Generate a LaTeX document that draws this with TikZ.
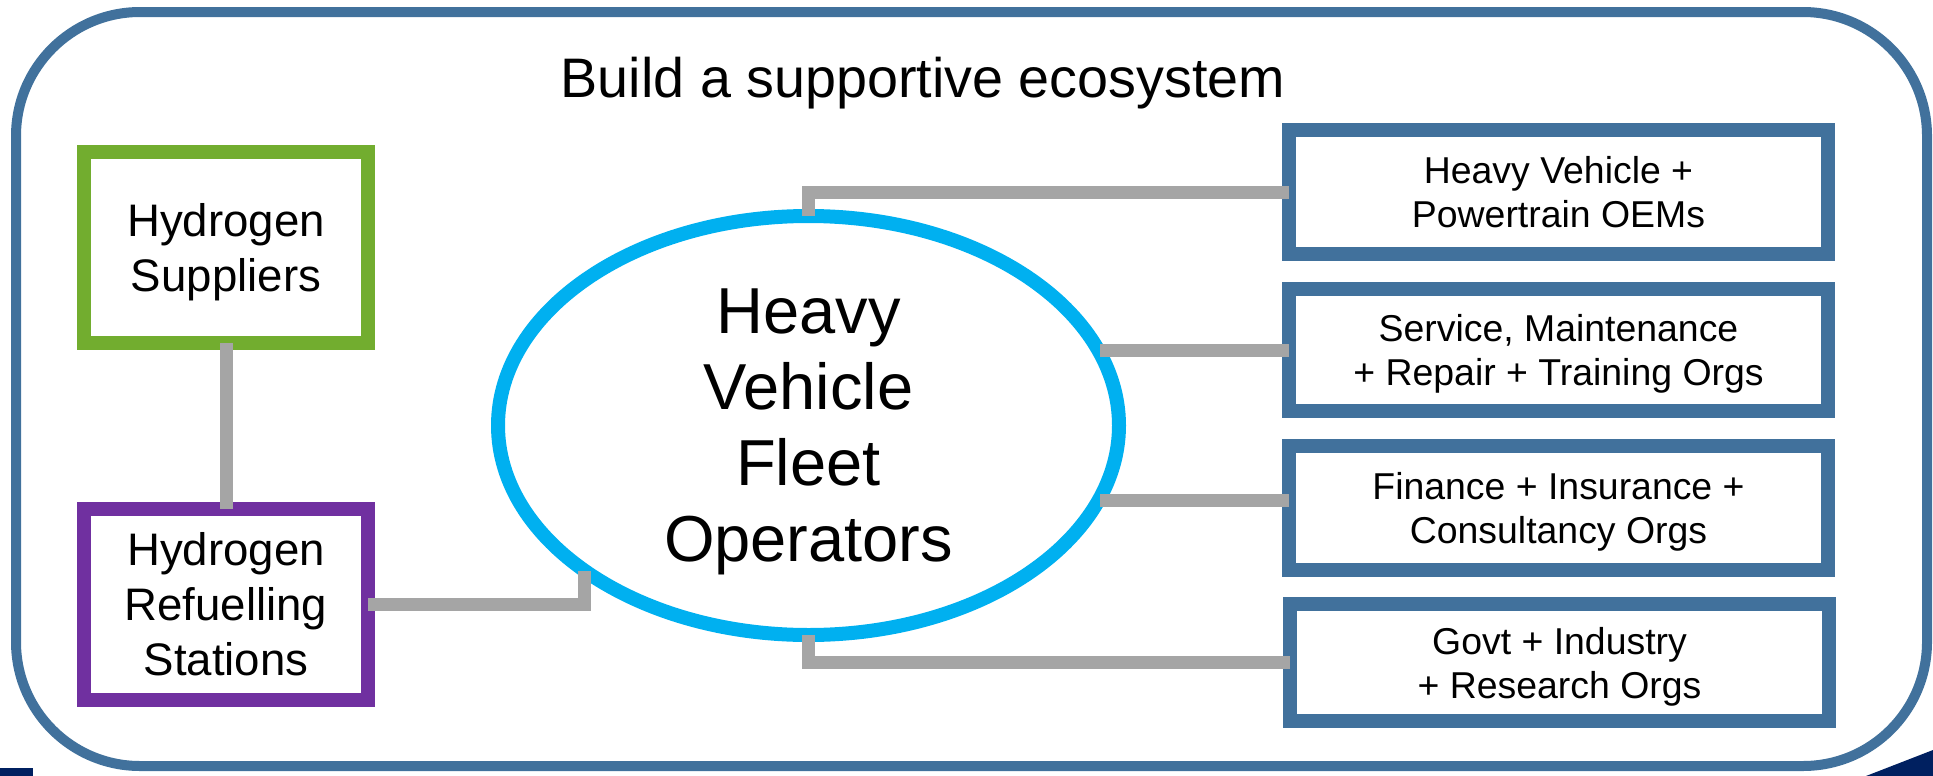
\documentclass[tikz,border=0pt]{standalone}
\usepackage{fontspec}
\setmainfont{Liberation Sans}
\usetikzlibrary{shapes.geometric}

\definecolor{frameblue}{RGB}{65,113,156}
\definecolor{h2green}{RGB}{114,173,47}
\definecolor{h2purple}{RGB}{112,48,160}
\definecolor{fleetcyan}{RGB}{0,176,240}
\definecolor{linkgrey}{RGB}{165,165,165}
\definecolor{slidenavy}{RGB}{0,32,96}

% last line without depth, so the text sits a bit lower in its shape
\newcommand{\nodepth}[1]{\raisebox{0pt}[\height][0pt]{#1}}

\begin{document}
\begin{tikzpicture}[x=0.5pt, y=-0.5pt,
    actorbox/.style={rectangle, line width=7pt, fill=white,
                     inner sep=0pt, outer sep=0pt, align=center},
    leftbox/.style={actorbox, minimum width=142pt, minimum height=95.5pt,
                    font=\fontsize{22.8}{27.5}\selectfont},
    rightbox/.style={actorbox, draw=frameblue, minimum width=269.5pt,
                     font=\fontsize{18.7}{22}\selectfont},
    link/.style={draw=linkgrey, line width=6.5pt}]
  \useasboundingbox (0,0) rectangle (1933,776);

  % slide edge pieces
  \fill[slidenavy] (0,768) rectangle (33,776);
  \fill[slidenavy] (1866,776) -- (1933,750) -- (1933,776) -- cycle;

  % ecosystem frame + title
  \draw[frameblue, line width=5pt, rounded corners=62pt] (16,12) rectangle (1927,766);
  \node[anchor=base, font=\fontsize{27.85}{33}\selectfont] (title) at (923,97)
      {Build a supportive ecosystem};

  % hydrogen side
  \node[leftbox, draw=h2green] (hsup) at (226,247.5) {Hydrogen\\\nodepth{Suppliers}};
  \node[leftbox, draw=h2purple] (hrs) at (226,604.5) {Hydrogen\\Refuelling\\Stations};

  % fleet operators
  \node[ellipse, draw=fleetcyan, line width=7pt,
        minimum width=310.5pt, minimum height=209.5pt,
        inner sep=0pt, outer sep=0pt, align=center,
        font=\fontsize{32.5}{38}\selectfont] (hvf) at (808.5,425.5)
      {Heavy\\Vehicle\\Fleet\\\nodepth{Operators}};

  % partner organisations
  \node[rightbox, minimum height=62pt] (oem) at (1558.5,192)
      {Heavy Vehicle +\\\nodepth{Powertrain OEMs}};
  \node[rightbox, minimum height=61pt] (svc) at (1558.5,350)
      {Service, Maintenance\\\nodepth{+ Repair + Training Orgs}};
  \node[rightbox, minimum height=62pt] (fin) at (1558.5,508)
      {Finance + Insurance +\\\nodepth{Consultancy Orgs}};
  \node[rightbox, minimum height=58.5pt] (gov) at (1559.5,662.5)
      {Govt + Industry\\\nodepth{+ Research Orgs}};

  % links
  \coordinate (finlink) at ([yshift=4pt]fin.west);
  \draw[link] (hsup.south) -- (hrs.north);
  \draw[link] (hrs.east) -| (hvf.213.6);
  \draw[link] (hvf.north) |- (oem.west);
  \draw[link] (svc.west) -- (hvf.14.6 |- svc.west);
  \draw[link] (finlink) -- (hvf.-14.4 |- finlink);
  \draw[link] (hvf.south) |- (gov.west);
\end{tikzpicture}
\end{document}
